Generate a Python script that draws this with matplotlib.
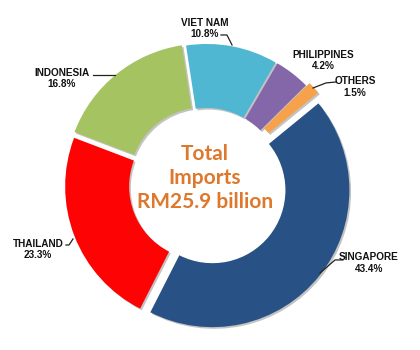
import matplotlib
matplotlib.use("Agg")
import matplotlib.pyplot as plt
import matplotlib.patheffects as pe

# slices clockwise from the top-right
countries = ["SINGAPORE", "THAILAND", "INDONESIA", "VIET NAM", "PHILIPPINES", "OTHERS"]
shares = [43.4, 23.3, 16.8, 10.8, 4.2, 1.5]
colors = ["#285285", "#FE0303", "#A6C362", "#4FB7D1", "#8367A9", "#F8A14B"]
explode = [0.06, 0.03, 0.04, 0.03, 0.03, 0.06]
center_text = "Total\nImports\nRM25.9 billion"

# label positions (data units, radius 1 = outer ring) and leader lines
label_pos = {
    "SINGAPORE": (1.19, -0.57),
    "THAILAND": (-1.226, -0.47),
    "INDONESIA": (-1.051, 0.78),
    "VIET NAM": (-0.007, 1.145),
    "PHILIPPINES": (0.854, 0.91),
    "OTHERS": (1.088, 0.715),
}
leaders = {
    "SINGAPORE": [(1.000, -0.547), (0.942, -0.547), (0.832, -0.642)],
    "THAILAND": [(-1.022, -0.438), (-1.000, -0.438), (-0.971, -0.394)],
    "INDONESIA": [(-0.825, 0.803), (-0.664, 0.803)],
    "VIET NAM": [(0.109, 1.095), (0.153, 1.095), (0.190, 1.022)],
    "OTHERS": [(0.949, 0.752), (0.876, 0.745), (0.781, 0.708)],
}


def main():
    fig = plt.figure(figsize=(4.2, 3.5), dpi=100)
    fig.patch.set_facecolor("white")
    ax = fig.add_axes([0, 0, 1, 1])

    wedges, _ = ax.pie(shares, colors=colors, explode=explode, startangle=39.3,
                       counterclock=False, radius=1.0,
                       wedgeprops=dict(width=0.467, linewidth=0))
    for w in wedges:
        w.set_path_effects([pe.SimplePatchShadow(offset=(1.2, -1.2), alpha=0.35,
                                                 shadow_rgbFace="#555555"),
                            pe.Normal()])

    for name, share in zip(countries, shares):
        x, y = label_pos[name]
        ax.text(x, y, f"{name}\n{share:.1f}%", ha="center", va="center",
                fontsize=7.2, fontweight="bold", family=["Liberation Sans", "DejaVu Sans"],
                color="#111111", linespacing=1.15)
    for name, pts in leaders.items():
        xs, ys = zip(*pts)
        ax.plot(xs, ys, color="#222222", lw=0.9)

    ax.text(-0.007, 0.05, center_text, ha="center", va="center", fontsize=15,
            fontweight="bold", family=["Lato", "DejaVu Sans"], color="#DD782C",
            linespacing=1.25)

    ax.set_xlim(-206 / 137, 214 / 137)
    ax.set_ylim(-165 / 137, 185 / 137)
    ax.set_aspect("equal")
    ax.axis("off")

    fig.savefig("out.png", dpi=100)
    plt.close(fig)


if __name__ == "__main__":
    main()
